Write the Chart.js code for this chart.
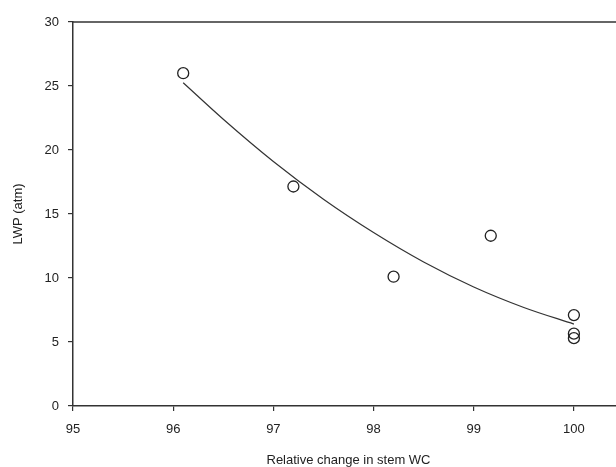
<!DOCTYPE html>
<html lang="en">
<head>
    <meta charset="UTF-8">
    <title>LWP vs relative change in stem WC</title>
    <script src="https://cdn.jsdelivr.net/npm/chart.js"></script>
    <style>
        html, body { margin: 0; padding: 0; overflow: hidden; background: #fff; }
    </style>
</head>
<body>
    <canvas id="myChart" width="640" height="467"></canvas>

    <script>
        // observed points
        const stemWC = [96.1, 97.2, 98.2, 99.17, 100, 100, 100];
        const lwp = [26.0, 17.15, 10.1, 13.3, 7.1, 5.65, 5.3];

        // fitted curve
        const fitX = [96.1, 96.5, 97, 97.5, 98, 98.5, 99, 99.5, 100];
        const fitY = [25.25, 22.4, 19.1, 16.15, 13.55, 11.25, 9.3, 7.7, 6.4];

        const xTicks = [95, 96, 97, 98, 99, 100];
        const yTicks = [0, 5, 10, 15, 20, 25, 30];

        const font = { family: 'Liberation Sans, Arial, sans-serif', size: 13 };
        const titleFont = { family: 'Liberation Sans, Arial, sans-serif', size: 13, lineHeight: 1 };

        // top frame line
        const topLine = {
            id: 'topLine',
            afterDraw(chart) {
                const { ctx, chartArea } = chart;
                ctx.save();
                ctx.strokeStyle = '#333';
                ctx.lineWidth = 1.5;
                ctx.beginPath();
                ctx.moveTo(chartArea.left, chartArea.top);
                ctx.lineTo(chartArea.right, chartArea.top);
                ctx.stroke();
                ctx.restore();
            }
        };

        new Chart(document.getElementById('myChart'), {
            type: 'scatter',
            data: {
                datasets: [{
                    label: 'fit',
                    data: fitX.map((x, i) => ({ x: x, y: fitY[i] })),
                    showLine: true,
                    borderColor: '#333',
                    borderWidth: 1.2,
                    pointRadius: 0,
                    cubicInterpolationMode: 'monotone',
                    fill: false
                }, {
                    label: 'LWP',
                    data: stemWC.map((x, i) => ({ x: x, y: lwp[i] })),
                    pointRadius: 5.5,
                    pointBorderWidth: 1.3,
                    pointBorderColor: '#222',
                    pointBackgroundColor: 'rgba(0,0,0,0)'
                }]
            },
            options: {
                responsive: false,
                animation: false,
                layout: { padding: { top: 22, right: 16 } },
                plugins: {
                    legend: { display: false },
                    tooltip: { enabled: false }
                },
                scales: {
                    x: {
                        type: 'linear',
                        min: 95,
                        max: 100.5,
                        afterFit: (axis) => { axis.height = 61; },
                        afterBuildTicks: (axis) => { axis.ticks = xTicks.map(v => ({ value: v })); },
                        grid: { drawOnChartArea: false, tickLength: 5, color: '#333', lineWidth: 1.2 },
                        border: { color: '#333', width: 1.5 },
                        ticks: { color: '#222', font: font, padding: 11 },
                        title: {
                            display: true,
                            text: 'Relative change in stem WC',
                            color: '#222',
                            font: titleFont,
                            padding: { top: 0, bottom: 0 }
                        }
                    },
                    y: {
                        min: 0,
                        max: 30,
                        afterFit: (axis) => { axis.width = 73; },
                        afterBuildTicks: (axis) => { axis.ticks = yTicks.map(v => ({ value: v })); },
                        grid: { drawOnChartArea: false, tickLength: 5, color: '#333', lineWidth: 1.2 },
                        border: { color: '#333', width: 1.5 },
                        ticks: { color: '#222', font: font, padding: 9 },
                        title: {
                            display: true,
                            text: 'LWP (atm)',
                            color: '#222',
                            font: titleFont,
                            padding: { top: 12, bottom: 0 }
                        }
                    }
                }
            },
            plugins: [topLine]
        });
    </script>
</body>
</html>
